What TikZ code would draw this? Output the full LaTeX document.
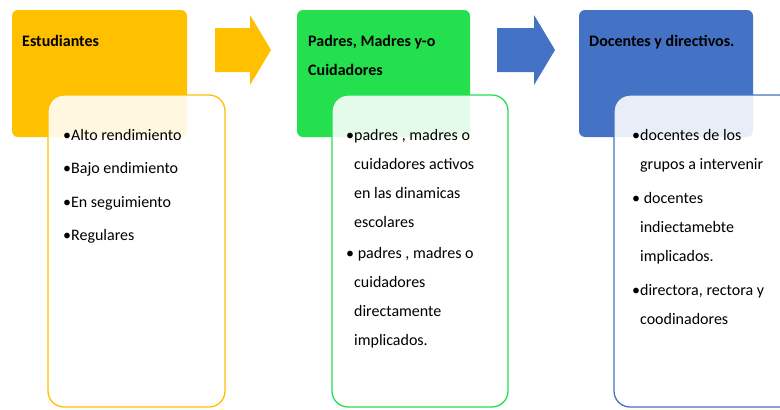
\documentclass[tikz,border=0pt]{standalone}
\usepackage{fontspec}
\setmainfont{Carlito}
\definecolor{cOrange}{HTML}{FFC000}
\definecolor{cGreen}{HTML}{24DF4E}
\definecolor{cBlue}{HTML}{4472C4}
\tikzset{
  headbox/.style={fill=#1, rounded corners=6pt},
  card/.style={draw=#1, line width=1.3pt, fill=white, fill opacity=0.88, rounded corners=16pt},
  blockarrow/.style={fill=#1},
  htext/.style={anchor=base west, inner sep=0pt, align=left, font=\fontsize{16}{29}\selectfont\bfseries},
  btext/.style={anchor=base west, inner sep=0pt, align=left, font=\fontsize{16}{29}\selectfont},
}
\newcommand{\hb}{\hphantom{•}}
\begin{document}
\begin{tikzpicture}[x=1pt,y=-1pt]
\useasboundingbox (0,0) rectangle (780,410);
% headers
\fill[headbox=cOrange] (12,10) rectangle (187,137);
\fill[headbox=cGreen] (297,10) rectangle (470,137);
\fill[headbox=cBlue] (579,10) rectangle (753,137);
% block arrows
\fill[blockarrow=cOrange] (215,28) -- (250,28) -- (250,15) -- (271,50) -- (250,85) -- (250,72) -- (215,72) -- cycle;
\fill[blockarrow=cBlue] (497,28) -- (534,28) -- (534,15) -- (555,50) -- (534,85) -- (534,72) -- (497,72) -- cycle;
% cards
\path[card=cOrange] (48,95) rectangle (225,407);
\path[card=cGreen] (332,95) rectangle (508,407);
\path[card=cBlue] (614,95) rectangle (795,407);
% header texts (multi-line nodes are placed by the baseline of their last line)
\node[htext] (h1) at (22,46) {Estudiantes};
\node[htext] (h2) at (308,75) {Padres, Madres y-o\\Cuidadores};
\node[htext] (h3) at (589,46) {Docentes y directivos.};
% box 1 body
\node[btext] (a1) at (63,140) {•Alto rendimiento};
\node[btext] (a2) at (63,173.5) {•Bajo endimiento};
\node[btext] (a3) at (63,207) {•En seguimiento};
\node[btext] (a4) at (63,240.5) {•Regulares};
% box 2 body
\node[btext] (b1) at (346,227) {•padres , madres o\\\hb cuidadores activos\\\hb en las dinamicas\\\hb escolares};
\node[btext] (b2) at (346,345) {• padres , madres o\\\hb cuidadores\\\hb directamente\\\hb implicados.};
% box 3 body
\node[btext] (c1) at (632,169) {•docentes de los\\\hb grupos a intervenir};
\node[btext] (c2) at (632,261) {• docentes\\\hb indiectamebte\\\hb implicados.};
\node[btext] (c3) at (632,324) {•directora, rectora y\\\hb coodinadores};
\end{tikzpicture}
\end{document}
